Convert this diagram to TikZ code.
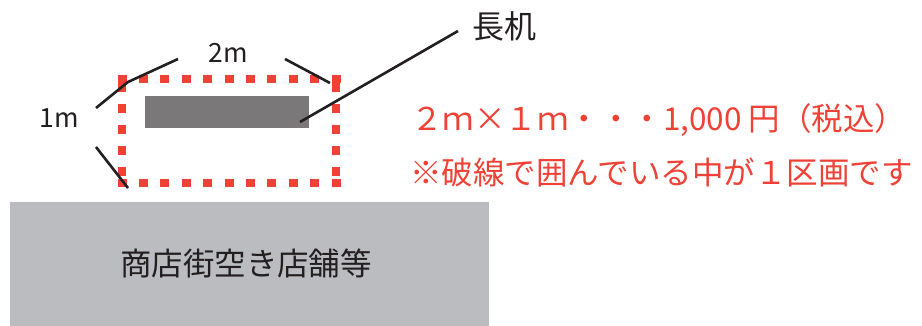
\documentclass[tikz,border=0pt]{standalone}
\usepackage{fontspec}
\setmainfont{Noto Sans CJK JP}
\definecolor{redc}{HTML}{EF4136}
\definecolor{deskgray}{HTML}{7A7878}
\definecolor{shopgray}{HTML}{BBBCBF}
\definecolor{inkc}{HTML}{231F20}
\tikzset{
  leader/.style={draw=inkc, line width=2.6pt},
  reddash/.style={draw=redc, line width=8pt},
  lbl/.style={inner sep=0pt, text=inkc},
  redtxt/.style={inner sep=0pt, text=redc, anchor=west, font=\fontsize{31.5}{36}\selectfont}
}
\begin{document}
\begin{tikzpicture}[x=1pt,y=-1pt]
\useasboundingbox (0,0) rectangle (922,326);
% shop block
\node[fill=shopgray, minimum width=479pt, minimum height=124pt, inner sep=0pt, anchor=north west] (shop) at (10,202) {};
\node[lbl, font=\fontsize{31.5}{36}\selectfont] (shoptxt) at (246,263) {商店街空き店舗等};
% desk
\node[fill=deskgray, minimum width=164pt, minimum height=32pt, inner sep=0pt, anchor=north west] (desk) at (145,96) {};
% dashed area
\coordinate (tl) at (122,79);
\coordinate (tr) at (336,79);
\coordinate (bl) at (122,183);
\coordinate (br) at (336,183);
\draw[reddash, dash pattern=on 9pt off 12.4pt] ([xshift=-4.5pt]tl) -- ([xshift=4.5pt]tr);
\draw[reddash, dash pattern=on 9pt off 12.4pt] ([xshift=-4.5pt]bl) -- ([xshift=4.5pt]br);
\draw[reddash, dash pattern=on 9pt off 11.8pt] ([yshift=-4.5pt]tl) -- ([yshift=4.5pt]bl);
\draw[reddash, dash pattern=on 9pt off 11.8pt] ([yshift=-4.5pt]tr) -- ([yshift=4.5pt]br);
% labels
\node[lbl, font=\fontsize{26.5}{30}\selectfont] (twom) at (228,53) {2m};
\node[lbl, font=\fontsize{26.5}{30}\selectfont] (onem) at (59,118) {1m};
\node[lbl, font=\fontsize{32}{36}\selectfont] (desktxt) at (504,26) {長机};
% leader lines
\coordinate (tlbend) at (128,82);
\coordinate (twomL) at (178,59);
\coordinate (twomR) at (285,59);
\coordinate (trend) at (330,83);
\coordinate (onemT) at (96,108);
\coordinate (onemB) at (96,147);
\coordinate (blend) at (128,188);
\coordinate (deskpt) at (300,122);
\coordinate (desklbl) at (458,31);
\draw[leader] (onemT) -- (tlbend) -- (twomL);
\draw[leader] (twomR) -- (trend);
\draw[leader] (onemB) -- (blend);
\draw[leader] (deskpt) -- (desklbl);
% red notes
\node[redtxt] (price) at (411,120) {２ｍ×１ｍ・・・1,000 円（税込）};
\node[redtxt] (note) at (410,172) {※破線で囲んでいる中が１区画です};
\end{tikzpicture}
\end{document}
